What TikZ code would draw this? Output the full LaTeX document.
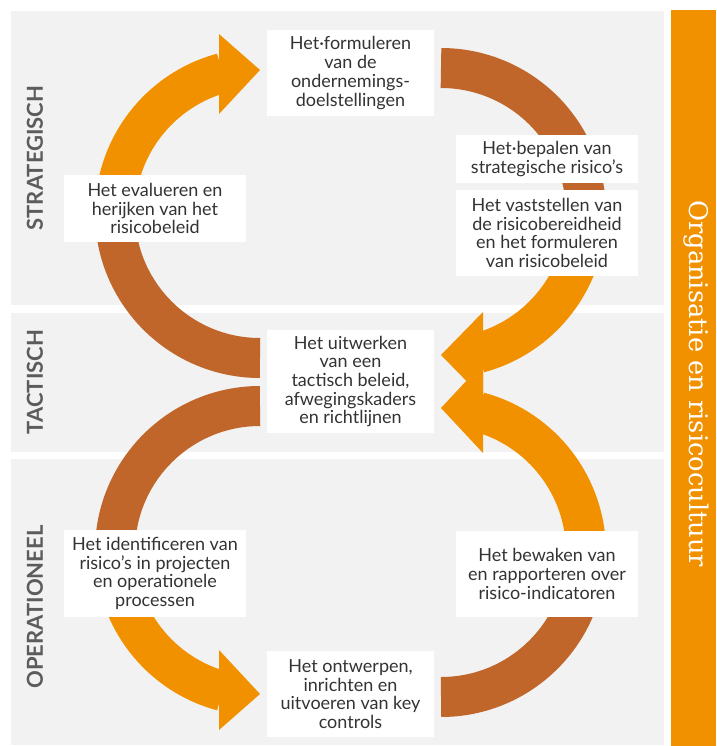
\documentclass[tikz,border=0pt]{standalone}
\usepackage{fontspec}
\setmainfont{Lato}
\newfontfamily\slabfont{DejaVu Serif}
\definecolor{panelgray}{HTML}{F2F2F2}
\definecolor{arcorange}{HTML}{F29100}
\definecolor{arcbrown}{HTML}{C1662A}
\definecolor{textgray}{HTML}{333333}
\definecolor{labelgray}{HTML}{5C5C5C}
\begin{document}
\begin{tikzpicture}[x=1pt,y=1pt,yscale=-1,
  panel/.style={fill=panelgray,draw=none},
  stepbox/.style={fill=white,text=textgray,align=center,inner sep=0pt,
    font=\fontsize{18}{18.7}\selectfont},
  sidelabel/.style={rotate=90,text=labelgray,font=\bfseries\fontsize{22}{22}\selectfont},
  brownarc/.style={draw=arcbrown,line width=40pt},
  orangearc/.style={draw=arcorange,line width=40pt},
  head/.style={fill=arcorange,draw=none}]
\useasboundingbox (0,0) rectangle (716,746);
\fill[white] (0,0) rectangle (716,746);
% panels
\fill[panel] (11,11) rectangle (664,305);
\fill[panel] (11,313) rectangle (664,452);
\fill[panel] (11,459) rectangle (664,745);
\fill[arcorange] (671,10) rectangle (716,746);
% arc anchors
\coordinate (tlS) at (260,358);
\coordinate (tlM) at (115,213);
\coordinate (trS) at (441,68);
\coordinate (blS) at (260,406);
\coordinate (blM) at (115,551);
\coordinate (brS) at (441,697);
\coordinate (brM) at (586,552);
% top-left arc
\draw[brownarc] (tlS) arc[start angle=90,end angle=180,radius=145];
\draw[orangearc] (tlM) arc[start angle=180,end angle=255,radius=145];
\fill[head] (219,34) -- (260,70) -- (219,114) -- cycle;
% top-right arc
\draw[brownarc] (trS) arc[start angle=270,end angle=367,radius=145] coordinate (trM);
\draw[orangearc] (trM) arc[start angle=367,end angle=435,radius=145];
\fill[head] (483,312) -- (441,355) -- (483,398) -- cycle;
% bottom-left arc
\draw[brownarc] (blS) arc[start angle=270,end angle=180,radius=145];
\draw[orangearc] (blM) arc[start angle=180,end angle=105,radius=145];
\fill[head] (219,650) -- (260,694) -- (219,730) -- cycle;
% bottom-right arc
\draw[brownarc] (brS) arc[start angle=90,end angle=0,radius=145];
\draw[orangearc] (brM) arc[start angle=0,end angle=-75,radius=145];
\fill[head] (483,363) -- (441,408) -- (483,453) -- cycle;
% boxes
\node[stepbox,minimum width=167pt,minimum height=86pt] (b1) at (350.5,73)
  {Het·formuleren\\van de\\ondernemings-\\doelstellingen};
\node[stepbox,minimum width=182pt,minimum height=67pt] (b2) at (155,208.5)
  {Het evalueren en\\herijken van het\\risicobeleid};
\node[stepbox,minimum width=182pt,minimum height=48pt] (b3) at (547,159)
  {Het·bepalen van\\strategische risico’s};
\node[stepbox,minimum width=182pt,minimum height=86pt] (b4) at (547,233)
  {Het vaststellen van\\de risicobereidheid\\en het formuleren\\van risicobeleid};
\node[stepbox,minimum width=167pt,minimum height=103pt] (b5) at (350.5,381.5)
  {Het uitwerken\\van een\\tactisch beleid,\\afwegingskaders\\en richtlijnen};
\node[stepbox,minimum width=182pt,minimum height=87pt] (b6) at (155,573.5)
  {Het identificeren van\\risico’s in projecten\\en operationele\\processen};
\node[stepbox,minimum width=182pt,minimum height=86pt] (b7) at (547,574)
  {Het bewaken van\\en rapporteren over\\risico-indicatoren};
\node[stepbox,minimum width=167pt,minimum height=86pt] (b8) at (350.5,694)
  {Het ontwerpen,\\inrichten en\\uitvoeren van key\\controls};
% side labels
\node[sidelabel] (lstrat) at (35,158) {STRATEGISCH};
\node[sidelabel] (ltact) at (35,382) {TACTISCH};
\node[sidelabel] (loper) at (35,607) {OPERATIONEEL};
\node[rotate=-90,text=white,inner sep=0pt,anchor=base west,
  font=\slabfont\fontsize{25.7}{26}\selectfont] (culture) at (689,200)
  {Organisatie en risicocultuur};
\end{tikzpicture}
\end{document}
